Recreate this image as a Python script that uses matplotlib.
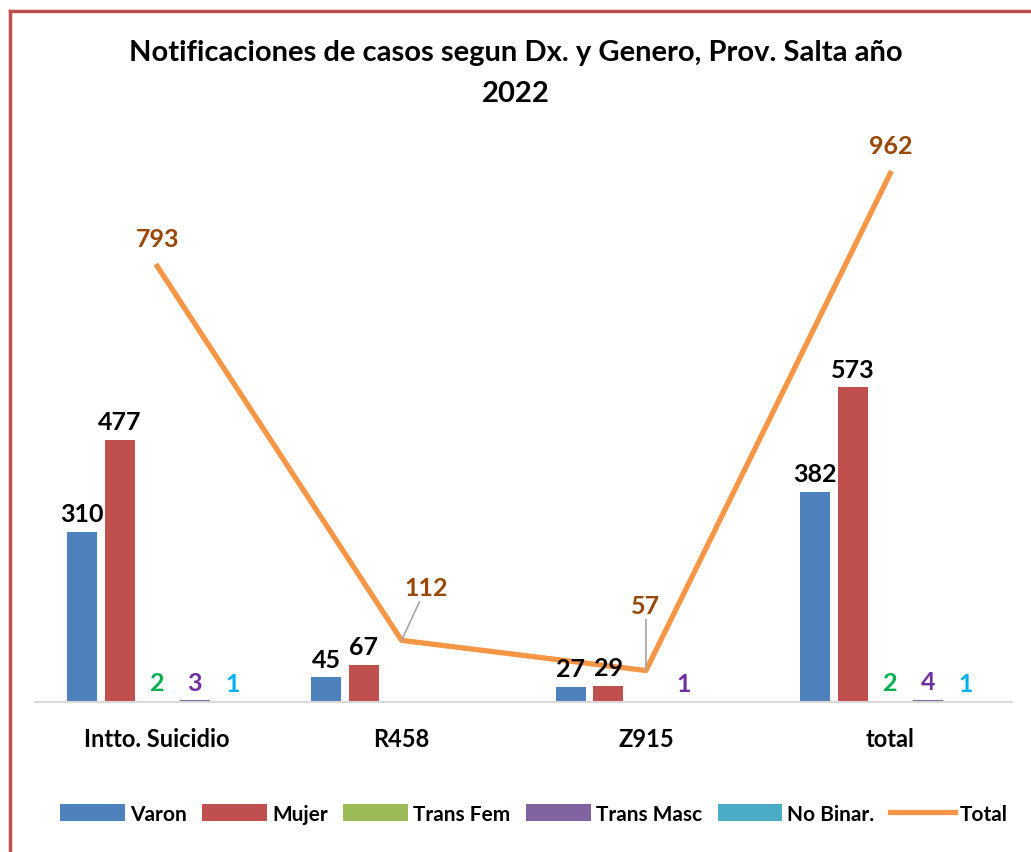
import numpy as np
import matplotlib.pyplot as plt
from matplotlib.lines import Line2D

plt.rcParams['font.family'] = ['Lato', 'DejaVu Sans']

categorias = ['Intto. Suicidio', 'R458', 'Z915', 'total']
varon = [310, 45, 27, 382]
mujer = [477, 67, 29, 573]
trans_fem = [2, 0, 0, 2]
trans_masc = [3, 0, 1, 4]
no_binar = [1, 0, 0, 1]
total = [793, 112, 57, 962]

series = [
    ('Varon', varon, '#4F81BD', 'black'),
    ('Mujer', mujer, '#C0504D', 'black'),
    ('Trans Fem', trans_fem, '#9BBB59', '#00B050'),
    ('Trans Masc', trans_masc, '#8064A2', '#7030A0'),
    ('No Binar.', no_binar, '#4BACC6', '#00B0F0'),
]

fig = plt.figure(figsize=(10.31, 8.53), dpi=100)
ax = fig.add_axes([0.034, 0.176, 0.948, 0.644])

x = np.arange(len(categorias))
paso = 0.154
ancho = 0.123
fs_lab = 18

for i, (nombre, vals, color, col_lab) in enumerate(series):
    pos = x + (i - 2) * paso
    ax.bar(pos, vals, width=ancho, color=color, label=nombre, zorder=2)
    for p, v in zip(pos, vals):
        if v > 0:
            ax.text(p, v + 12, str(v), ha='center', va='bottom',
                    fontsize=fs_lab, fontweight='bold', color=col_lab, zorder=4)

ax.plot(x, total, color='#F79646', lw=3.8, zorder=3, label='Total')

# etiquetas del total
ax.text(x[0], total[0] + 30, str(total[0]), ha='center', va='bottom',
        fontsize=fs_lab, fontweight='bold', color='#984807')
ax.text(x[3], total[3] + 30, str(total[3]), ha='center', va='bottom',
        fontsize=fs_lab, fontweight='bold', color='#984807')
ax.annotate(str(total[1]), xy=(x[1], total[1]), xytext=(x[1] + 0.1, total[1] + 75),
            ha='center', va='bottom', fontsize=fs_lab, fontweight='bold', color='#984807',
            arrowprops=dict(arrowstyle='-', color='#A6A6A6', lw=1.2, shrinkA=0, shrinkB=0))
ax.annotate(str(total[2]), xy=(x[2], total[2]), xytext=(x[2], total[2] + 98),
            ha='center', va='bottom', fontsize=fs_lab, fontweight='bold', color='#984807',
            arrowprops=dict(arrowstyle='-', color='#A6A6A6', lw=1.2, shrinkA=0, shrinkB=0))

ax.set_ylim(0, 1000)
ax.set_xlim(-0.5, 3.5)
for s in ['top', 'right', 'left']:
    ax.spines[s].set_visible(False)
ax.spines['bottom'].set_color('#D9D9D9')
ax.spines['bottom'].set_linewidth(1.5)
ax.set_yticks([])
ax.set_xticks(x)
ax.set_xticklabels(categorias, fontsize=17, fontweight='bold')
ax.tick_params(axis='x', length=0, pad=18)

fig.suptitle('Notificaciones de casos segun Dx. y Genero, Prov. Salta año\n2022',
             fontsize=21, fontweight='bold', y=0.953, linespacing=1.72)

handles, labels = ax.get_legend_handles_labels()
orden = [1, 2, 3, 4, 5, 0]
fig.legend([handles[k] for k in orden], [labels[k] for k in orden],
           loc='center', bbox_to_anchor=(0.518, 0.045), ncol=6,
           frameon=False, prop={'size': 15, 'weight': 'bold'},
           handlelength=3.1, handleheight=0.9, columnspacing=0.75, handletextpad=0.25)

# borde del gráfico
fig.add_artist(Line2D([0.0093, 0.0093], [0, 0.986], color='#C0504D', lw=2.5,
                      transform=fig.transFigure))
fig.add_artist(Line2D([0.0093, 1], [0.986, 0.986], color='#C0504D', lw=2.5,
                      transform=fig.transFigure))

plt.savefig('out.png', dpi=100)
